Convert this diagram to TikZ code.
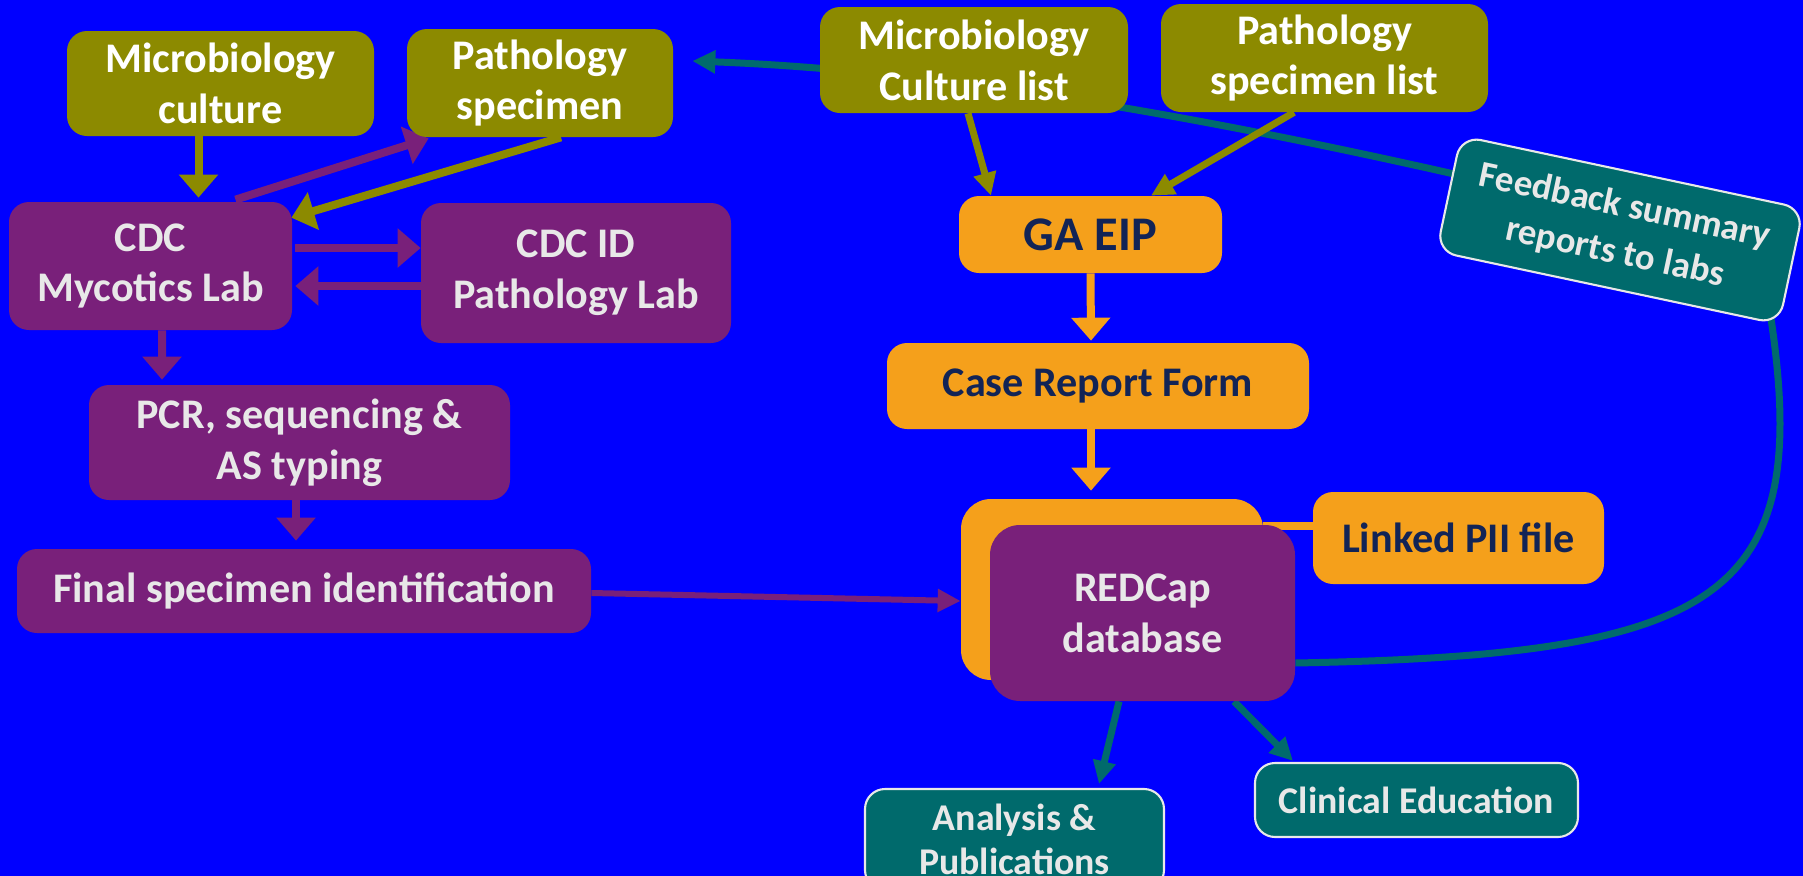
\documentclass[tikz,border=0pt]{standalone}
\usepackage{fontspec}
\setmainfont{Carlito}
\usetikzlibrary{arrows.meta,calc}
\pgfdeclarelayer{back}
\pgfdeclarelayer{bg}
\pgfsetlayers{back,bg,main}
\definecolor{bgblue}{RGB}{0,0,255}
\definecolor{olivec}{RGB}{140,138,0}
\definecolor{purplec}{RGB}{121,32,122}
\definecolor{orangec}{RGB}{245,160,27}
\definecolor{tealc}{RGB}{0,106,108}
\definecolor{navytext}{RGB}{18,36,86}
\definecolor{lighttext}{RGB}{232,232,232}
\tikzset{
  wh/.style 2 args={minimum width=#1*0.02cm, minimum height=#2*0.02cm},
  box/.style={rounded corners=0.4cm, inner sep=0pt, align=center,
    font=\bfseries\fontsize{24}{29}\selectfont},
  olivebox/.style={box, fill=olivec, text=white},
  purplebox/.style={box, fill=purplec, text=lighttext},
  orangebox/.style={box, fill=orangec, text=navytext},
  tealbox/.style={box, fill=tealc, draw=lighttext, line width=1.2pt, text=lighttext,
    font=\bfseries\fontsize{21.5}{25}\selectfont},
  bigarrow/.style={line width=0.16cm, -{Triangle[length=0.46cm,width=0.76cm]}},
  smallarrow/.style={line width=0.14cm, -{Triangle[length=0.46cm,width=0.44cm]}},
  thinarrow/.style={line width=0.12cm, -{Triangle[length=0.46cm,width=0.44cm]}},
  plainline/.style={line width=0.14cm},
}
\begin{document}
\begin{tikzpicture}[x=0.02cm,y=-0.02cm]
\begin{pgfonlayer}{back}
  \fill[bgblue] (0,0) rectangle (1803,876);
\end{pgfonlayer}
\useasboundingbox (0,0) rectangle (1803,876);

% left column
\node[olivebox, wh={307}{105}] (mc) at (220.5,83.5) {Microbiology\\culture};
\node[olivebox, wh={266}{108}] (ps) at (540,83) {Pathology\\specimen};
\node[purplebox, wh={283}{128}] (cdc) at (150.5,266) {CDC\\Mycotics Lab};
\node[purplebox, wh={310}{140}] (cdcid) at (576,273) {CDC ID\\Pathology Lab};
\node[purplebox, wh={421}{115}] (pcr) at (299.5,442.5) {PCR, sequencing \&\\AS typing};
\node[purplebox, wh={574}{84}] (fin) at (304,591) {Final specimen identification};

% right column
\node[olivebox, wh={308}{106}] (mcl) at (974,60) {Microbiology\\Culture list};
\node[olivebox, wh={327}{108}] (psl) at (1324.5,58) {Pathology\\specimen list};
\node[orangebox, wh={263}{77}, font=\bfseries\fontsize{27.5}{32}\selectfont] (ga) at (1090.5,234.5) {GA EIP};
\node[orangebox, wh={422}{86}] (crf) at (1098,386) {Case Report Form};
\node[orangebox, wh={302}{181}, rounded corners=0.6cm] (redback) at (1112,589.5) {};
\node[purplebox, wh={305}{176}, rounded corners=0.6cm] (red) at (1142.5,613) {REDCap\\database};
\node[orangebox, wh={291}{92}] (pii) at (1458.5,538) {Linked PII file};
\node[tealbox, wh={299}{101}] (ana) at (1014.5,839.5) {Analysis \&\\Publications};
\node[tealbox, wh={323}{74}] (cle) at (1416.5,800) {Clinical Education};
\node[tealbox, wh={350}{118}, rotate=-12, font=\bfseries\fontsize{21}{27}\selectfont] (fb) at (1620,230) {Feedback summary\\reports to labs};

\begin{pgfonlayer}{bg}
  % feedback loop
  \draw[tealc, plainline] ($(red.east)+(0,50)$) .. controls (1720,655) and (1815,600) .. ($(fb.south east)+(-10,-15)$);
  \draw[tealc, smallarrow] ($(fb.west)+(30,-14)$) .. controls (1218,120) and (952,71) .. ($(ps.east)+(19,-22)$);
  % left flows
  \draw[olivec, bigarrow] ($(mc.south)+(-22,0)$) -- ($(cdc.north)+(48,-4)$);
  \draw[purplec, bigarrow] ($(cdc.north)+(85,-2)$) -- ($(ps.south west)+(22,1)$);
  \draw[olivec, bigarrow] ($(ps.south)+(21,0)$) -- ($(cdc.north east)+(-1,16)$);
  \draw[purplec, bigarrow] ($(cdc.east)+(3,-18)$) -- ($(cdcid.west)+(0,-25)$);
  \draw[purplec, bigarrow] ($(cdcid.west)+(0,13)$) -- ($(cdc.east)+(3,20)$);
  \draw[purplec, bigarrow] ($(cdc.south)+(11.5,0)$) -- ($(pcr.north)+(-137.5,-5)$);
  \draw[purplec, bigarrow] ($(pcr.south)+(-3.5,0)$) -- ($(fin.north)+(-8,-8)$);
  \draw[purplec, thinarrow] ($(fin.east)+(0,2)$) -- ($(redback.west)+(0,11.5)$);
  % right flows
  \draw[olivec, smallarrow] ($(mcl.south)+(-6,0)$) -- ($(ga.north)+(-99.5,0)$);
  \draw[olivec, smallarrow] ($(psl.south)+(-30.5,0)$) -- ($(ga.north)+(60.5,0)$);
  \draw[orangec, bigarrow] (ga.south) -- ($(crf.north)+(-7,-2)$);
  \draw[orangec, bigarrow] ($(crf.south)+(-7,0)$) -- ($(redback.north)+(-21,-8)$);
  \draw[orangec, line width=0.16cm] ($(redback.east)+(0,-63.5)$) -- ($(pii.west)+(0,-12)$);
  \draw[tealc, smallarrow] ($(red.south)+(-23.5,0)$) -- ($(ana.north)+(84.5,-4)$);
  \draw[tealc, smallarrow] ($(red.south)+(91.5,0)$) -- ($(cle.north)+(-123.5,-1)$);
\end{pgfonlayer}
\end{tikzpicture}
\end{document}
